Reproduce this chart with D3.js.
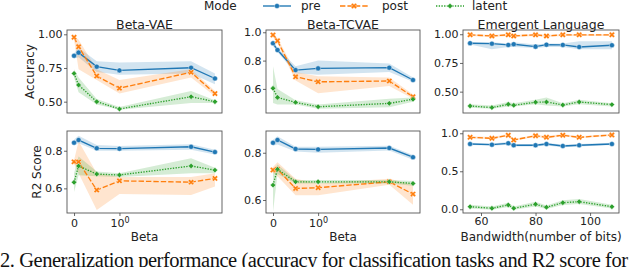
<!DOCTYPE html>
<html><head><meta charset="utf-8">
<script src="https://cdn.jsdelivr.net/npm/d3@7"></script>
<style>body{margin:0;background:#fff;} svg{display:block;font-family:"DejaVu Sans",sans-serif;}</style>
</head><body><svg id="c" width="640" height="267"></svg>
<script>
// ---------- data ----------
const betas = [0, 0.1, 0.5, 1, 8, 16];
const bandwidths = [56, 64, 70, 72, 80, 84, 90, 96, 108];
const modes = ["pre", "post", "latent"];
const titles = ["Beta-VAE", "Beta-TCVAE", "Emergent Language"];
const rowLabels = ["Accuracy", "R2 Score"];
const xLabels = ["Beta", "Beta", "Bandwidth(number of bits)"];
const betaTicks = [0, 1];
const betaTickLabels = ["0", "10|0"];
const bwTicks = [60, 80, 100];
const ticksVaeAcc = [0.50, 0.75, 1.00];
const ticksTcAcc = [0.6, 0.8, 1.0];
const ticksElAcc = [0.50, 0.75, 1.00];
const ticksVaeR2 = [0.6, 0.8];
const ticksTcR2 = [0.6, 0.8];
const ticksElR2 = [0.0, 0.5, 1.0];

// Beta-VAE accuracy
const vaeAccPre = [0.841, 0.864, 0.760, 0.732, 0.752, 0.672];
const vaeAccPreLo = [0.82, 0.83, 0.72, 0.70, 0.71, 0.63];
const vaeAccPreHi = [0.86, 0.90, 0.80, 0.79, 0.80, 0.71];
const vaeAccPost = [0.978, 0.908, 0.690, 0.600, 0.718, 0.560];
const vaeAccPostLo = [0.96, 0.74, 0.66, 0.56, 0.68, 0.54];
const vaeAccPostHi = [0.99, 0.96, 0.74, 0.66, 0.74, 0.58];
const vaeAccLatent = [0.710, 0.624, 0.500, 0.446, 0.537, 0.500];
const vaeAccLatentLo = [0.68, 0.57, 0.48, 0.44, 0.49, 0.49];
const vaeAccLatentHi = [0.74, 0.68, 0.52, 0.46, 0.58, 0.51];
// Beta-TCVAE accuracy
const tcAccPre = [0.922, 0.875, 0.733, 0.745, 0.750, 0.663];
const tcAccPreLo = [0.90, 0.86, 0.71, 0.70, 0.72, 0.65];
const tcAccPreHi = [0.94, 0.89, 0.76, 0.80, 0.78, 0.68];
const tcAccPost = [0.981, 0.940, 0.686, 0.650, 0.656, 0.545];
const tcAccPostLo = [0.97, 0.92, 0.66, 0.57, 0.62, 0.53];
const tcAccPostHi = [0.99, 0.96, 0.72, 0.69, 0.68, 0.56];
const tcAccLatent = [0.604, 0.540, 0.505, 0.474, 0.498, 0.527];
const tcAccLatentLo = [0.50, 0.49, 0.49, 0.46, 0.47, 0.51];
const tcAccLatentHi = [0.76, 0.60, 0.52, 0.49, 0.53, 0.54];
// Emergent language accuracy
const elAccPre = [0.922, 0.918, 0.907, 0.913, 0.892, 0.909, 0.907, 0.889, 0.904];
const elAccPreLo = [0.91, 0.87, 0.89, 0.89, 0.88, 0.89, 0.89, 0.87, 0.87];
const elAccPreHi = [0.93, 0.93, 0.92, 0.93, 0.91, 0.92, 0.92, 0.94, 0.94];
const elAccPost = [0.995, 0.985, 0.995, 0.985, 0.995, 0.985, 0.995, 0.995, 0.995];
const elAccPostLo = [0.985, 0.975, 0.985, 0.975, 0.985, 0.975, 0.985, 0.985, 0.985];
const elAccPostHi = [1.0, 0.995, 1.0, 0.995, 1.0, 0.995, 1.0, 1.0, 1.0];
const elAccLatent = [0.375, 0.361, 0.390, 0.381, 0.408, 0.410, 0.384, 0.410, 0.387];
const elAccLatentLo = [0.36, 0.35, 0.37, 0.37, 0.39, 0.38, 0.37, 0.39, 0.37];
const elAccLatentHi = [0.39, 0.38, 0.41, 0.40, 0.43, 0.45, 0.40, 0.43, 0.40];
// Beta-VAE R2
const vaeR2Pre = [0.843, 0.857, 0.813, 0.811, 0.821, 0.793];
const vaeR2PreLo = [0.83, 0.84, 0.80, 0.80, 0.805, 0.78];
const vaeR2PreHi = [0.86, 0.88, 0.83, 0.825, 0.835, 0.805];
const vaeR2Post = [0.741, 0.741, 0.591, 0.640, 0.633, 0.653];
const vaeR2PostLo = [0.73, 0.68, 0.485, 0.57, 0.565, 0.61];
const vaeR2PostHi = [0.75, 0.85, 0.68, 0.66, 0.66, 0.68];
const vaeR2Latent = [0.632, 0.719, 0.676, 0.671, 0.719, 0.697];
const vaeR2LatentLo = [0.58, 0.67, 0.665, 0.66, 0.68, 0.68];
const vaeR2LatentHi = [0.68, 0.77, 0.69, 0.68, 0.76, 0.71];
// Beta-TCVAE R2
const tcR2Pre = [0.842, 0.854, 0.816, 0.814, 0.820, 0.781];
const tcR2PreLo = [0.83, 0.835, 0.805, 0.80, 0.81, 0.77];
const tcR2PreHi = [0.855, 0.87, 0.825, 0.825, 0.83, 0.79];
const tcR2Post = [0.727, 0.730, 0.649, 0.652, 0.677, 0.625];
const tcR2PostLo = [0.715, 0.70, 0.62, 0.62, 0.665, 0.58];
const tcR2PostHi = [0.74, 0.76, 0.69, 0.67, 0.69, 0.665];
const tcR2Latent = [0.663, 0.730, 0.677, 0.677, 0.677, 0.670];
const tcR2LatentLo = [0.55, 0.71, 0.67, 0.67, 0.67, 0.66];
const tcR2LatentHi = [0.72, 0.75, 0.685, 0.685, 0.685, 0.68];
// Emergent language R2
const elR2Pre = [0.859, 0.850, 0.868, 0.842, 0.842, 0.859, 0.833, 0.842, 0.859];
const elR2PreLo = [0.845, 0.835, 0.85, 0.825, 0.825, 0.84, 0.815, 0.825, 0.845];
const elR2PreHi = [0.875, 0.865, 0.885, 0.86, 0.86, 0.875, 0.85, 0.86, 0.875];
const elR2Post = [0.947, 0.934, 0.974, 0.912, 0.968, 0.947, 0.974, 0.947, 0.978];
const elR2PostLo = [0.935, 0.92, 0.96, 0.90, 0.955, 0.93, 0.96, 0.935, 0.965];
const elR2PostHi = [0.96, 0.95, 0.99, 0.925, 0.98, 0.965, 0.99, 0.96, 0.99];
const elR2Latent = [0.034, 0.013, 0.057, 0.013, 0.066, 0.026, 0.087, 0.100, 0.034];
const elR2LatentLo = [0.01, -0.005, 0.03, -0.005, 0.035, 0.005, 0.055, 0.07, 0.01];
const elR2LatentHi = [0.06, 0.035, 0.085, 0.035, 0.10, 0.05, 0.12, 0.135, 0.06];

const caption = "2. Generalization performance (accuracy for classification tasks and R2 score for";

// ---------- layout ----------
const colors = {pre: "#1f77b4", post: "#ff7f0e", latent: "#2ca02c"};
const cols = [[67, 222], [266, 420], [463, 619]];
const rows = [[30, 113], [131, 213]];
const LW = 1.35;
const dashes = {pre: null, post: `${4*LW},${1.5*LW}`, latent: `${1*LW},${1*LW}`};

const panels = [
  {r:0,c:0,x:"beta",dom:[0.416,1.032],ticks:ticksVaeAcc,fmt:".2f",s:{pre:[vaeAccPre,vaeAccPreLo,vaeAccPreHi],post:[vaeAccPost,vaeAccPostLo,vaeAccPostHi],latent:[vaeAccLatent,vaeAccLatentLo,vaeAccLatentHi]}},
  {r:0,c:1,x:"beta",dom:[0.43,1.016],ticks:ticksTcAcc,fmt:".1f",s:{pre:[tcAccPre,tcAccPreLo,tcAccPreHi],post:[tcAccPost,tcAccPostLo,tcAccPostHi],latent:[tcAccLatent,tcAccLatentLo,tcAccLatentHi]}},
  {r:0,c:2,x:"bw",dom:[0.314,1.037],ticks:ticksElAcc,fmt:".2f",s:{pre:[elAccPre,elAccPreLo,elAccPreHi],post:[elAccPost,elAccPostLo,elAccPostHi],latent:[elAccLatent,elAccLatentLo,elAccLatentHi]}},
  {r:1,c:0,x:"beta",dom:[0.469,0.905],ticks:ticksVaeR2,fmt:".1f",s:{pre:[vaeR2Pre,vaeR2PreLo,vaeR2PreHi],post:[vaeR2Post,vaeR2PostLo,vaeR2PostHi],latent:[vaeR2Latent,vaeR2LatentLo,vaeR2LatentHi]}},
  {r:1,c:1,x:"beta",dom:[0.545,0.892],ticks:ticksTcR2,fmt:".1f",s:{pre:[tcR2Pre,tcR2PreLo,tcR2PreHi],post:[tcR2Post,tcR2PostLo,tcR2PostHi],latent:[tcR2Latent,tcR2LatentLo,tcR2LatentHi]}},
  {r:1,c:2,x:"bw",dom:[-0.049,1.03],ticks:ticksElR2,fmt:".1f",s:{pre:[elR2Pre,elR2PreLo,elR2PreHi],post:[elR2Post,elR2PostLo,elR2PostHi],latent:[elR2Latent,elR2LatentLo,elR2LatentHi]}}
];

// symlog-like transform (linear below 1, log10 above)
const LINA = 0.5725;
const symT = v => v <= 1 ? v * LINA : LINA + Math.log10(v);

const svg = d3.select("#c");

function markerPath(mode) {
  if (mode === "pre") return d3.symbol(d3.symbolCircle, 20)();
  if (mode === "post") return d3.symbol(d3.symbolCross, 22)();
  return d3.symbol(d3.symbolSquare, 15)();
}
const markerRot = {pre: 0, post: 45, latent: 45};

panels.forEach(p => {
  const [x0, x1] = cols[p.c], [y0, y1] = rows[p.r];
  const xs = p.x === "beta" ? betas : bandwidths;
  let xScale, xf;
  if (p.x === "beta") {
    const tmin = symT(d3.min(betas)), tmax = symT(d3.max(betas)), m = (tmax - tmin) * 0.05;
    const lin = d3.scaleLinear().domain([tmin - m, tmax + m]).range([x0, x1]);
    xScale = lin; xf = v => lin(symT(v));
  } else {
    const m = (d3.max(bandwidths) - d3.min(bandwidths)) * 0.05;
    xScale = d3.scaleLinear().domain([d3.min(bandwidths) - m, d3.max(bandwidths) + m]).range([x0, x1]);
    xf = v => xScale(v);
  }
  const y = d3.scaleLinear().domain(p.dom).range([y1, y0]);
  const g = svg.append("g");

  // bands
  modes.forEach(mo => {
    const [mean, lo, hi] = p.s[mo];
    const area = d3.area().x((d, i) => xf(xs[i])).y0((d, i) => y(lo[i])).y1((d, i) => y(hi[i]));
    g.append("path").attr("d", area(mean)).attr("fill", colors[mo]).attr("fill-opacity", 0.2).attr("stroke", "none");
  });
  // lines and markers
  modes.forEach(mo => {
    const [mean] = p.s[mo];
    const line = d3.line().x((d, i) => xf(xs[i])).y(d => y(d));
    const path = g.append("path").attr("d", line(mean)).attr("fill", "none")
      .attr("stroke", colors[mo]).attr("stroke-width", LW);
    if (dashes[mo]) path.attr("stroke-dasharray", dashes[mo]);
    g.selectAll(null).data(mean).enter().append("path")
      .attr("d", markerPath(mo))
      .attr("transform", (d, i) => `translate(${xf(xs[i])},${y(d)}) rotate(${markerRot[mo]})`)
      .attr("fill", colors[mo]).attr("stroke", "#fff").attr("stroke-width", 0.4);
  });

  // frame
  g.append("rect").attr("x", x0).attr("y", y0).attr("width", x1 - x0).attr("height", y1 - y0)
    .attr("fill", "none").attr("stroke", "#555").attr("stroke-width", 0.9);

  // y axis
  const ya = g.append("g").attr("transform", `translate(${x0},0)`)
    .call(d3.axisLeft(y).tickValues(p.ticks).tickFormat(d3.format(p.fmt)).tickSize(3).tickPadding(1.5));
  ya.select(".domain").remove();
  ya.selectAll("text").attr("font-size", 11).attr("fill", "#222").attr("font-family", "DejaVu Sans");
  ya.selectAll("line").attr("stroke", "#444").attr("stroke-width", 0.8);

  // x axis on bottom row
  if (p.r === 1) {
    const xa = g.append("g").attr("transform", `translate(0,${y1})`);
    if (p.x === "beta") {
      const ax = d3.axisBottom(xScale).tickValues(betaTicks.map(symT)).tickFormat("").tickSize(3);
      xa.call(ax);
      xa.selectAll(".tick").each(function(d, i) {
        const lab = betaTickLabels[i].split("|");
        const t = d3.select(this).append("text").attr("y", 13.5).attr("text-anchor", "middle")
          .attr("font-size", 11).attr("fill", "#222").attr("font-family", "DejaVu Sans");
        t.append("tspan").text(lab[0]);
        if (lab[1]) t.append("tspan").attr("dy", -4).attr("font-size", 8).text(lab[1]);
      });
    } else {
      xa.call(d3.axisBottom(xScale).tickValues(bwTicks).tickFormat(d3.format("d")).tickSize(3).tickPadding(1.5));
      xa.selectAll("text").attr("font-size", 11).attr("fill", "#222").attr("font-family", "DejaVu Sans");
    }
    xa.select(".domain").remove();
    xa.selectAll("line").attr("stroke", "#444").attr("stroke-width", 0.8);
    svg.append("text").attr("x", (x0 + x1) / 2).attr("y", 241).attr("text-anchor", "middle")
      .attr("font-size", 12).attr("fill", "#222").text(xLabels[p.c]);
  } else {
    svg.append("text").attr("x", (x0 + x1) / 2).attr("y", 29).attr("text-anchor", "middle")
      .attr("font-size", 12.5).attr("fill", "#222").text(titles[p.c]);
  }
  if (p.c === 0) {
    const lx = p.r === 0 ? 30 : 37;
    svg.append("text").attr("transform", `translate(${lx + 4},${(y0 + y1) / 2}) rotate(-90)`)
      .attr("text-anchor", "middle").attr("font-size", 12).attr("fill", "#222").text(rowLabels[p.r]);
  }
});

// legend
const lg = svg.append("g").attr("font-size", 12).attr("fill", "#222");
lg.append("text").attr("x", 204).attr("y", 10).text("Mode");
const legX = {pre: 263, post: 340, latent: 436};
const legT = {pre: 301, post: 382, latent: 472};
modes.forEach(mo => {
  const l = lg.append("line").attr("x1", legX[mo]).attr("x2", legX[mo] + 28).attr("y1", 6).attr("y2", 6)
    .attr("stroke", colors[mo]).attr("stroke-width", LW);
  if (dashes[mo]) l.attr("stroke-dasharray", dashes[mo]);
  lg.append("path").attr("d", markerPath(mo)).attr("transform", `translate(${legX[mo] + 14},6) rotate(${markerRot[mo]})`)
    .attr("fill", colors[mo]).attr("stroke", "#fff").attr("stroke-width", 0.4);
  lg.append("text").attr("x", legT[mo]).attr("y", 10).text(mo);
});

// caption (cut off at the bottom edge, as in the source image)
svg.append("text").attr("x", 0).attr("y", 266.5).attr("font-family", "Liberation Serif, serif")
  .attr("font-size", 20.5).attr("fill", "#111").attr("textLength", 628).attr("lengthAdjust", "spacing")
  .text(caption);
</script></body></html>
